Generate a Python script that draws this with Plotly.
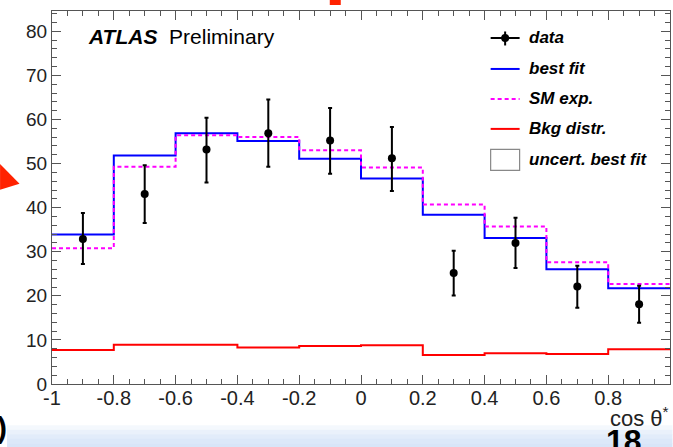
import plotly.graph_objects as go

# ---------------- data ----------------
bin_edges = [-1.0, -0.8, -0.6, -0.4, -0.2, 0.0, 0.2, 0.4, 0.6, 0.8, 1.0]
bin_centers = [-0.9, -0.7, -0.5, -0.3, -0.1, 0.1, 0.3, 0.5, 0.7, 0.9]
data_vals = [32.9, 43.1, 53.2, 56.9, 55.2, 51.2, 25.2, 32.0, 22.1, 18.1]
data_err_up = [5.9, 6.5, 7.2, 7.6, 7.4, 7.1, 5.0, 5.7, 4.7, 4.2]
data_err_down = [5.7, 6.6, 7.5, 7.6, 7.5, 7.4, 5.1, 5.7, 4.8, 4.2]
best_fit = [33.9, 51.8, 56.9, 55.1, 51.1, 46.6, 38.4, 33.1, 26.0, 21.7]
sm_exp = [30.8, 49.3, 56.4, 56.0, 53.0, 49.1, 40.7, 35.7, 27.6, 22.7]
bkg_distr = [7.7, 8.9, 8.9, 8.3, 8.6, 8.8, 6.6, 7.0, 6.8, 7.9]

x_tickvals = [-1, -0.8, -0.6, -0.4, -0.2, 0, 0.2, 0.4, 0.6, 0.8, 1]
x_ticktext = ["-1", "-0.8", "-0.6", "-0.4", "-0.2", "0", "0.2", "0.4", "0.6", "0.8", "1"]
y_tickvals = [0, 10, 20, 30, 40, 50, 60, 70, 80]
y_ticktext = ["0", "10", "20", "30", "40", "50", "60", "70", "80"]

legend_labels = ["data", "best fit", "SM exp.", "Bkg distr.", "uncert. best fit"]

# ---------------- layout geometry ----------------
W, H = 673, 447
ML, MR, MT, MB = 52, 2.5, 11, 62.7
PW = W - ML - MR
PH = H - MT - MB
FONT = "Liberation Sans, Arial, Helvetica, sans-serif"


def px(x):
    return (x - ML) / PW


def py(y):
    return (H - MB - y) / PH


def step(vals):
    return list(vals) + [vals[-1]]


fig = go.Figure()

fig.add_trace(go.Scatter(x=bin_edges, y=step(bkg_distr), mode="lines", line_shape="hv",
                         line=dict(color="#ff0000", width=2), showlegend=False))
fig.add_trace(go.Scatter(x=bin_edges, y=step(best_fit), mode="lines", line_shape="hv",
                         line=dict(color="#0000ff", width=2), showlegend=False))
fig.add_trace(go.Scatter(x=bin_edges, y=step(sm_exp), mode="lines", line_shape="hv",
                         line=dict(color="#ff00ff", width=2, dash="4px,3px"), showlegend=False))
fig.add_trace(go.Scatter(x=bin_centers, y=data_vals, mode="markers",
                         marker=dict(color="black", size=8),
                         error_y=dict(type="data", symmetric=False, array=data_err_up,
                                      arrayminus=data_err_down, color="black",
                                      thickness=2, width=2),
                         showlegend=False))

shapes = []
annotations = []

# ---- legend (manual, ROOT style) ----
leg_x0, leg_x1 = 491, 520
leg_ys = [38, 69, 99, 129, 160]
text_x = 527
shapes.append(dict(type="line", xref="paper", yref="paper", x0=px(leg_x0), x1=px(leg_x1),
                   y0=py(leg_ys[0]), y1=py(leg_ys[0]), line=dict(color="black", width=2)))
shapes.append(dict(type="line", xref="paper", yref="paper", x0=px(505.5), x1=px(505.5),
                   y0=py(31.5), y1=py(45.5), line=dict(color="black", width=2)))
shapes.append(dict(type="circle", xref="paper", yref="paper", x0=px(501.5), x1=px(509.5),
                   y0=py(34), y1=py(42), fillcolor="black", line=dict(color="black", width=0)))
shapes.append(dict(type="line", xref="paper", yref="paper", x0=px(leg_x0), x1=px(leg_x1),
                   y0=py(leg_ys[1]), y1=py(leg_ys[1]), line=dict(color="#0000ff", width=2)))
shapes.append(dict(type="line", xref="paper", yref="paper", x0=px(leg_x0), x1=px(leg_x1),
                   y0=py(leg_ys[2]), y1=py(leg_ys[2]), line=dict(color="#ff00ff", width=2, dash="4px,3px")))
shapes.append(dict(type="line", xref="paper", yref="paper", x0=px(leg_x0), x1=px(leg_x1),
                   y0=py(leg_ys[3]), y1=py(leg_ys[3]), line=dict(color="#ff0000", width=2)))
shapes.append(dict(type="rect", xref="paper", yref="paper", x0=px(leg_x0), x1=px(leg_x1),
                   y0=py(170.5), y1=py(149.5), fillcolor="white", line=dict(color="#888888", width=1.2)))
for lab, yy in zip(legend_labels, leg_ys):
    annotations.append(dict(xref="paper", yref="paper", x=px(text_x), y=py(yy), text=f"<b><i>{lab}</i></b>",
                            showarrow=False, xanchor="left", yanchor="middle",
                            font=dict(family=FONT, size=17, color="black")))

# ---- ATLAS label ----
annotations.append(dict(xref="paper", yref="paper", x=px(86), y=py(37),
                        text="<b><i>ATLAS</i></b>  Preliminary", showarrow=False,
                        xanchor="left", yanchor="middle", font=dict(family=FONT, size=21, color="black")))

# ---- axis title ----
annotations.append(dict(xref="paper", yref="paper", x=px(672), y=py(417),
                        text="cos θ<sup>*</sup>", showarrow=False, xanchor="right", yanchor="middle",
                        font=dict(family=FONT, size=22, color="#222222")))

# ---- slide decorations ----
grad_cols = ["#ffffff", "#f4f8fd", "#eaf1fb", "#e2ecfa", "#dce8f9", "#d8e5f8"]
gy0 = 421
for i, c in enumerate(grad_cols):
    shapes.append(dict(type="rect", xref="paper", yref="paper", layer="below",
                       x0=px(7), x1=px(673), y0=py(gy0 + i * 4.5), y1=py(gy0 + (i + 1) * 4.5 + 0.5),
                       fillcolor=c, line=dict(width=0)))
shapes.append(dict(type="path", xref="paper", yref="paper",
                   path=f"M {px(0)},{py(164)} L {px(19.5)},{py(184)} L {px(0)},{py(190)} Z",
                   fillcolor="#ff2200", line=dict(width=0)))
shapes.append(dict(type="rect", xref="paper", yref="paper", x0=px(330), x1=px(341),
                   y0=py(5), y1=py(0), fillcolor="#ff2200", line=dict(width=0)))
annotations.append(dict(xref="paper", yref="paper", x=px(624), y=py(421), text="<b>18</b>",
                        showarrow=False, xanchor="center", yanchor="top",
                        font=dict(family=FONT, size=32, color="black")))
annotations.append(dict(xref="paper", yref="paper", x=px(9), y=py(428), text="<b>)</b>",
                        showarrow=False, xanchor="right", yanchor="middle",
                        font=dict(family=FONT, size=30, color="black")))

axis_common = dict(showgrid=False, zeroline=False, showline=True, linecolor="#555555", linewidth=1.3,
                   mirror="ticks", ticks="inside", tickcolor="#555555", tickwidth=1.3, ticklen=9)

fig.update_layout(
    width=W, height=H,
    margin=dict(l=ML, r=MR, t=MT, b=MB, pad=0),
    paper_bgcolor="white", plot_bgcolor="white",
    showlegend=False,
    font=dict(family=FONT, color="#222222"),
    xaxis=dict(range=[-1, 1], tickvals=x_tickvals, ticktext=x_ticktext,
               tickfont=dict(family=FONT, size=20, color="#222222"), ticklabelstandoff=-4,
               minor=dict(dtick=0.05, ticks="inside", ticklen=4.5, tickcolor="#555555", tickwidth=1.2),
               **axis_common),
    yaxis=dict(range=[0, 84.6], tickvals=y_tickvals, ticktext=y_ticktext,
               tickfont=dict(family=FONT, size=19, color="#222222"),
               minor=dict(dtick=2, ticks="inside", ticklen=4.5, tickcolor="#555555", tickwidth=1.2),
               **axis_common),
    shapes=shapes,
    annotations=annotations,
)

fig.write_html("out.html")
